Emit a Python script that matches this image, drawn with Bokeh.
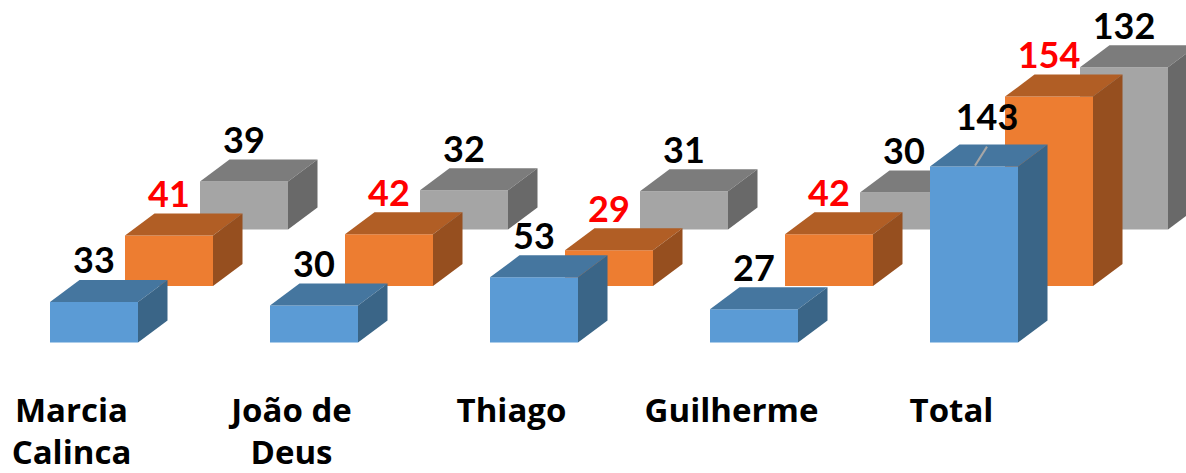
from bokeh.plotting import figure
from bokeh.models import Range1d, ColumnDataSource
from bokeh.core.properties import value
from bokeh.embed import file_html
from bokeh.resources import INLINE

categories = ["Marcia\nCalinca", "João de\nDeus", "Thiago", "Guilherme", "Total"]
blue_values = [33, 30, 53, 27, 143]
orange_values = [41, 42, 29, 42, 154]
gray_values = [39, 32, 31, 30, 132]

W, H = 1186, 473
PX_X = 220.0   # pixels per category
PX_Y = 1.23    # pixels per unit of value
X0, Y0 = 49.5, 342  # pixel position of first bar's front-left base inside the figure

p = figure(width=W, height=H, output_backend="svg", toolbar_location=None,
           x_range=Range1d(-X0 / PX_X, (W - X0) / PX_X),
           y_range=Range1d(-(H - Y0) / PX_Y, Y0 / PX_Y),
           min_border=0, outline_line_color=None, background_fill_color="white",
           border_fill_color=None)
p.axis.visible = False
p.grid.visible = False

BAR_W = 88 / PX_X
DX = 29.5 / PX_X
DY = 22 / PX_Y

series = [
    (gray_values, 2, "#A5A5A5", "#7C7C7C", "#696969", "black"),
    (orange_values, 1, "#ED7D31", "#B15E25", "#964F1F", "red"),
    (blue_values, 0, "#5B9BD5", "#45769F", "#3A6587", "black"),
]
SHIFT_X = 75 / PX_X
SHIFT_Y = 56.5 / PX_Y

labels = {"x": [], "y": [], "t": [], "c": []}
for vals, s, front, top, side, txt in series:
    fx, fy, tx, ty, sx, sy = [], [], [], [], [], []
    for i, v in enumerate(vals):
        x = i + s * SHIFT_X
        b = s * SHIFT_Y
        t = b + v
        fx.append([x, x + BAR_W, x + BAR_W, x])
        fy.append([b, b, t, t])
        tx.append([x, x + BAR_W, x + BAR_W + DX, x + DX])
        ty.append([t, t, t + DY, t + DY])
        sx.append([x + BAR_W, x + BAR_W + DX, x + BAR_W + DX, x + BAR_W])
        sy.append([b, b + DY, t + DY, t])
        # the total of the front series has its label pulled off with a leader line
        pulled = s == 0 and i == len(vals) - 1
        labels["x"].append(x + BAR_W / 2 + (13 / PX_X if pulled else 0))
        labels["y"].append(t + (50 if pulled else 41.5) / PX_Y)
        labels["t"].append(str(v))
        labels["c"].append(txt)
        if pulled:
            p.segment([x + BAR_W / 2 + 1 / PX_X], [t + 1 / PX_Y],
                      [x + BAR_W / 2 + 13 / PX_X], [t + 20 / PX_Y],
                      line_color="#A6A6A6", line_width=2, level="annotation")
    p.patches(fx, fy, fill_color=front, line_color=None)
    p.patches(tx, ty, fill_color=top, line_color=None)
    p.patches(sx, sy, fill_color=side, line_color=None)

p.text("x", "y", text="t", text_color="c", source=ColumnDataSource(labels),
       text_font=value("Lato"), text_font_style="bold", text_font_size="36px",
       text_align="center", text_baseline="middle", level="overlay")

cat_x = [i + (BAR_W / 2) - 22.5 / PX_X for i in range(len(categories))]
line1 = [c.split("\n")[0] for c in categories]
line2 = [c.split("\n")[1] for c in categories if "\n" in c]
cat_font = dict(text_color="black", text_font=value("Open Sans"), text_font_style="bold",
                text_font_size="33px", text_align="center", text_baseline="middle")
p.text(cat_x, [-67 / PX_Y] * len(categories), text=line1, **cat_font)
p.text(cat_x[:len(line2)], [-109 / PX_Y] * len(line2), text=line2, **cat_font)

open("out.html", "w").write(file_html(p, INLINE))
